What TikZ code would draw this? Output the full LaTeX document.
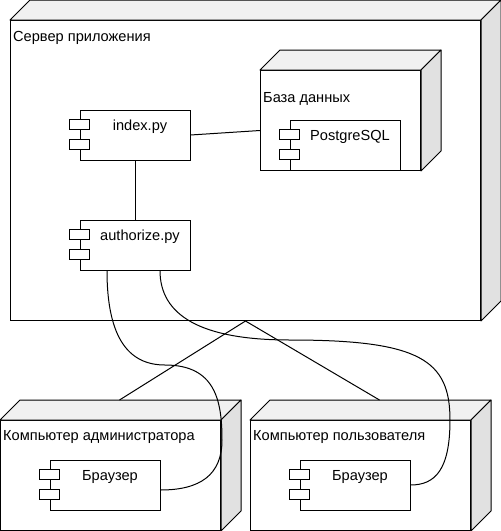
\documentclass[tikz,border=0pt]{standalone}
\usepackage{fontspec}
\setmainfont{Liberation Sans}
\usetikzlibrary{calc}
\definecolor{topgray}{HTML}{F1F1F1}
\definecolor{sidegray}{HTML}{E1E1E1}
\tikzset{
  frontface/.style={draw=black, fill=white, line width=1pt, anchor=north west, inner sep=0pt},
  face/.style={draw=black, line width=1pt, line join=round},
  compbox/.style={draw=black, fill=white, line width=1pt, minimum width=110pt, minimum height=50pt, inner sep=0pt},
  comptext/.style={anchor=base, inner sep=0pt, font=\fontsize{14.6}{17}\selectfont},
  nodetext/.style={anchor=base west, inner sep=0pt, font=\fontsize{14.6}{17}\selectfont},
  wire/.style={draw=black, line width=1pt}
}
\newcommand*{\DrawNodes}[1]{% #1 = list of name/x/y/width/height/dy/label
  \foreach \name/\x/\y/\w/\h/\dy/\txt in {#1} {
    \node [frontface, minimum width=\w pt, minimum height=\h pt] (\name) at (\x,\y) {};
    \draw [face, fill=topgray]
      (\name.north west) -- ++(20,-20) -- ($(\name.north east)+(20,-20)$) -- (\name.north east) -- cycle;
    \draw [face, fill=sidegray]
      (\name.north east) -- ++(20,-20) -- ($(\name.south east)+(20,-20)$) -- (\name.south east) -- cycle;
    \node [nodetext] (\name-label) at ([shift={(3,\dy)}]\name.north west) {\txt};
    }%
}
\newcommand*{\DrawComponents}[1]{% #1 = list of name/x/y/label
  \foreach \name/\x/\y/\txt in {#1} {
    \node [compbox] (\name) at (\x,\y) {};
    \node [comptext] (\name-text) at ([shift={(5,21)}]\name.north) {\txt};
    \draw [wire, fill=white] ([shift={(-10,10)}]\name.north west) rectangle ++(20,10);
    \draw [wire, fill=white] ([shift={(-10,30)}]\name.north west) rectangle ++(20,10);
    }%
}

\begin{document}
\begin{tikzpicture}[x=1pt, y=-1pt]
    \useasboundingbox (0,0) rectangle (501,531);
    \begin{scope}[local bounding box=deployment]

         \DrawNodes{
            server/10/20/470/300/21/Сервер приложения,
            db/260/70/160/100/32/База данных,
            admin/0/420/220/110/20/Компьютер администратора,
            user/250/420/220/110/20/Компьютер пользователя
         }

         \DrawComponents{
            index/135/135/index.py,
            authorize/135/245/authorize.py,
            postgres/345/145/PostgreSQL,
            adminbrowser/105/485/Браузер,
            userbrowser/355/485/Браузер
         }

    \end{scope}

    % links
    \coordinate (admin-top) at ([shift={(9,-20)}]admin.north);
    \coordinate (user-top) at ([shift={(19,-20)}]user.north);
    \draw [wire] (index.east) -- ([yshift=-10pt]db.west);
    \draw [wire] (index) -- (authorize);
    \draw [wire] (server.south) -- (admin-top);
    \draw [wire] (server.south) -- (user-top);
    \draw [wire] ([xshift=-28pt]authorize.south)
      .. controls (107,340) and (130,365) .. (165,365)
      .. controls (215,365) and (222,400) .. (222,440)
      .. controls (222,475) and (200,490) .. ([yshift=-5pt]adminbrowser.east);
    \draw [wire] ([xshift=25pt]authorize.south)
      .. controls (160,315) and (200,340) .. (290,340)
      .. controls (420,340) and (450,360) .. (450,420)
      .. controls (450,470) and (435,485) .. (userbrowser.east);
\end{tikzpicture}
\end{document}
